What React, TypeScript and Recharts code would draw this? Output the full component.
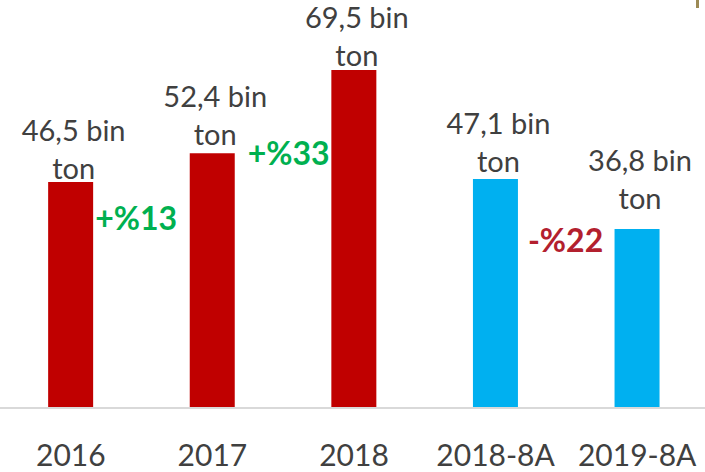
import { BarChart, Bar, XAxis, YAxis, Cell, LabelList } from 'recharts';

const categories = ['2016', '2017', '2018', '2018-8A', '2019-8A'];
const values = [46.5, 52.4, 69.5, 47.1, 36.8];
const changes = ['+%13', '+%33', '', '-%22', ''];
const unitLines = ['bin', 'ton'];

const RED = '#c00000';
const BLUE = '#00b0f0';
const barColors = [RED, RED, RED, BLUE, BLUE];
const changeColors = ['#00b050', '#00b050', '', '#b3202e', ''];

// small hand offsets, like the original slide
const labelGap = [3, 8, 4, 7, 20];
const changeOffset = [
  { dx: 2, dy: 48 },
  { dx: 13, dy: 12 },
  null,
  { dx: 10, dy: 73 },
  null,
];

const FONT = 'Lato, "Open Sans", sans-serif';
const TEXT = '#404040';

const data = categories.map((name, i) => ({ name, value: values[i] }));

const fmt = (v: number) => v.toFixed(1).replace('.', ',');

const ValueLabel = (props: any) => {
  const { x, y, width, index, value } = props;
  const cx = x + width / 2 + 3;
  const base = y - labelGap[index];
  return (
    <g>
      <text x={cx} y={base - 38} textAnchor="middle" fill={TEXT} fontSize={29} fontFamily={FONT}>
        {`${fmt(value)} ${unitLines[0]}`}
      </text>
      <text x={cx} y={base} textAnchor="middle" fill={TEXT} fontSize={29} fontFamily={FONT}>
        {unitLines[1]}
      </text>
    </g>
  );
};

const ChangeLabel = (props: any) => {
  const { x, y, width, index } = props;
  const off = changeOffset[index];
  if (!off || !changes[index]) return null;
  return (
    <text
      x={x + width + off.dx}
      y={y + off.dy}
      textAnchor="start"
      fill={changeColors[index]}
      fontSize={32}
      fontWeight={700}
      fontFamily={FONT}
    >
      {changes[index]}
    </text>
  );
};

const Tick = (props: any) => {
  const { x, y, payload } = props;
  return (
    <text x={x} y={y + 50} textAnchor="middle" fill={TEXT} fontSize={30} fontFamily={FONT}>
      {payload.value}
    </text>
  );
};

export default function App() {
  return (
    <div style={{ position: 'absolute', left: 0, top: 0, width: 705, height: 472, overflow: 'hidden', background: '#fff' }}>
      <BarChart width={708} height={472} data={data} margin={{ top: 19, right: 0, bottom: 0, left: 0 }} barCategoryGap="34%">
        <XAxis
          dataKey="name"
          height={64}
          axisLine={{ stroke: '#d9d9d9', strokeWidth: 2 }}
          tickLine={false}
          tick={<Tick />}
          interval={0}
        />
        <YAxis hide domain={[0, 80]} />
        <Bar dataKey="value" isAnimationActive={false}>
          {data.map((_, i) => (
            <Cell key={i} fill={barColors[i]} />
          ))}
          <LabelList dataKey="value" content={<ValueLabel />} />
          <LabelList dataKey="value" content={<ChangeLabel />} />
        </Bar>
      </BarChart>
      <div style={{ position: 'absolute', left: 696, top: 0, width: 3, height: 8, background: '#9c8a55' }} />
    </div>
  );
}
